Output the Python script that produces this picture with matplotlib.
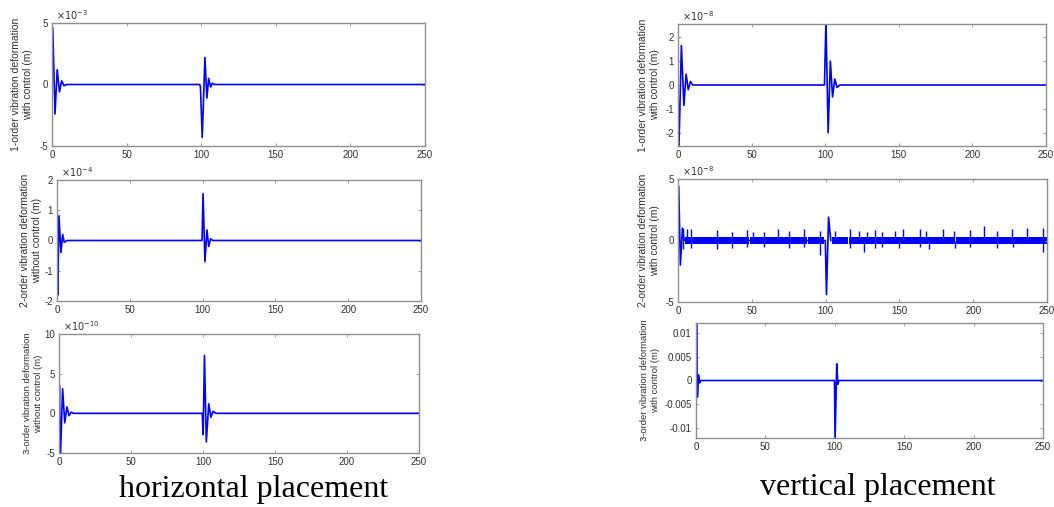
import matplotlib
matplotlib.use('Agg')
import matplotlib.pyplot as plt

plt.rcParams['font.family'] = ['Liberation Sans', 'DejaVu Sans']
plt.rcParams['axes.unicode_minus'] = False

W, H = 1054, 507

# horizontal placement, 1-order (x 1e-3)
t1 = [0, 0.5, 2, 3.5, 5, 6.5, 8, 10, 99, 99.5, 100.7, 102.5, 103.8, 105, 106.3, 107.5, 109, 250]
y1 = [0, 4.6, -2.4, 1.2, -0.6, 0.3, -0.1, 0, 0, -0.2, -4.3, 2.2, -1.1, 0.5, -0.2, 0.1, 0, 0]

# horizontal placement, 2-order (x 1e-4)
t2 = [0, 0.2, 0.6, 1.3, 2.7, 3.9, 5.0, 7.0, 99.6, 100.3, 101.6, 103.0, 104.2, 105.5, 107, 250]
y2 = [0, -0.3, -1.8, 0.82, -0.4, 0.2, -0.06, 0, 0, 1.55, -0.7, 0.35, -0.2, 0.06, 0, 0]

# horizontal placement, 3-order (x 1e-10)
t3 = [0, 0.3, 1.0, 2.5, 4, 5.5, 7, 8.5, 10, 99.5, 100.1, 101, 102.3, 104, 105.5, 107, 109, 250]
y3 = [0, 3.5, -5.5, 3.1, -1.2, 0.8, -0.3, 0.15, 0, 0, -2.7, 7.3, -3.6, 1.2, -0.5, 0.25, 0, 0]

# vertical placement, 1-order (x 1e-8)
t4 = [0, 0.6, 2.3, 4, 5.5, 7, 8.5, 10, 99.5, 100.5, 102, 103.5, 105, 106.5, 108, 110, 250]
y4 = [0, -2.7, 1.65, -0.85, 0.45, -0.2, 0.15, 0, 0, 2.7, -2.0, 1.0, -0.5, 0.25, -0.1, 0, 0]

# vertical placement, 2-order (x 1e-8): transients, residual band and spikes
t5 = [0, 0.5, 1.6, 3.0, 4.2, 99.8, 100.6, 102.0, 103.5]
y5 = [0, 4.4, -2.0, 1.0, 0, 0, -4.4, 1.9, 0]
band_start = [4.5, 37.5, 48.5, 88, 104.5, 116, 169, 188.5, 216.5]
band_end = [37, 48, 87.5, 99, 115.5, 168.5, 188, 216, 250]
band_amp = 0.3
up_t = [3.4, 6, 9, 26.4, 36.6, 46.7, 50.8, 58, 67.5, 75.4, 85.6, 96, 106.5, 116.7, 122.3,
        128, 133.6, 138, 147, 152.4, 163.7, 168, 179.5, 186.7, 197.5, 207.5, 216, 226, 236.3, 247.6]
up_h = [1.0, 0.9, 0.9, 0.85, 0.7, 0.85, 0.7, 0.7, 0.9, 0.8, 0.9, 0.75, 0.8, 0.9, 0.8,
        0.7, 0.85, 0.7, 0.75, 0.9, 0.9, 0.75, 0.9, 0.75, 0.85, 1.2, 0.8, 0.9, 1.0, 1.0]
dn_t = [3.4, 9, 26.4, 36.6, 46.7, 58, 75.4, 85.6, 96, 116.7, 126, 133.6, 138, 150, 163.7,
        170, 187.5, 197.5, 216, 227, 247.6]
dn_h = [-0.7, -0.6, -0.7, -0.6, -0.5, -0.5, -0.6, -0.5, -1.2, -0.6, -0.9, -0.6, -0.5, -0.6, -0.5,
        -0.7, -0.6, -0.5, -0.6, -0.5, -0.9]

# vertical placement, 3-order (m)
t6 = [0, 0.4, 1.0, 1.8, 2.6, 3.4, 99.8, 100.2, 101.4, 102.2, 103, 250]
y6 = [0, 0.0125, -0.0035, 0.0012, -0.0005, 0, 0, -0.0125, 0.0035, -0.0008, 0, 0]

xticks = [0, 50, 100, 150, 200, 250]
blue = '#0000ff'
grey = '#8f8f8f'
txt = '#333333'

fig = plt.figure(figsize=(W / 100, H / 100), dpi=100)


def make_ax(l, r, top, bot):
    ax = fig.add_axes([l / W, 1 - bot / H, (r - l) / W, (bot - top) / H])
    for s in ax.spines.values():
        s.set_color(grey)
        s.set_linewidth(1.0)
    ax.tick_params(direction='in', length=2.5, width=0.6, color=grey, labelsize=7,
                   labelcolor=txt, top=True, right=True, pad=3)
    ax.set_xlim(0, 250)
    ax.set_xticks(xticks)
    return ax


def label(ax, text, xr, size=7.5):
    ax.set_ylabel(text, fontsize=size, color=txt, linespacing=1.25)
    ax.yaxis.set_label_coords(xr, 0.5)


def expo(ax, s):
    ax.text(0.012, 1.005, r'$\times10^{%s}$' % s, transform=ax.transAxes, fontsize=7,
            color=txt, ha='left', va='bottom')


ax = make_ax(52, 425, 23, 146)
ax.plot(t1, y1, color=blue, lw=1.2)
ax.set_ylim(-5, 5)
ax.set_yticks([-5, 0, 5])
expo(ax, '-3')
label(ax, '1-order vibration deformation\nwith control (m)', -0.052)

ax = make_ax(57, 421, 180, 301)
ax.plot(t2, y2, color=blue, lw=1.2)
ax.set_ylim(-2, 2)
ax.set_yticks([-2, -1, 0, 1, 2])
expo(ax, '-4')
label(ax, '2-order vibration deformation\nwithout control (m)', -0.04)

ax = make_ax(59, 419, 334, 453)
ax.plot(t3, y3, color=blue, lw=1.2)
ax.set_ylim(-5, 10)
ax.set_yticks([-5, 0, 5, 10])
expo(ax, '-10')
label(ax, '3-order vibration deformation\nwithout control (m)', -0.045, 6.8)

ax = make_ax(678, 1046, 24, 146)
ax.plot(t4, y4, color=blue, lw=1.2)
ax.set_ylim(-2.55, 2.55)
ax.set_yticks([-2, -1, 0, 1, 2])
expo(ax, '-8')
label(ax, '1-order vibration deformation\nwith control (m)', -0.05)

ax = make_ax(678, 1047, 179, 302)
for a, b in zip(band_start, band_end):
    ax.fill_between([a, b], [-band_amp, -band_amp], [band_amp, band_amp], color=blue, lw=0)
ax.vlines(up_t, 0, up_h, color=blue, lw=1.0)
ax.vlines(dn_t, dn_h, 0, color=blue, lw=1.0)
ax.plot(t5, y5, color=blue, lw=1.2)
ax.set_ylim(-5, 5)
ax.set_yticks([-5, 0, 5])
expo(ax, '-8')
label(ax, '2-order vibration deformation\nwith control (m)', -0.05)

ax = make_ax(696, 1043, 323, 438)
ax.plot(t6, y6, color=blue, lw=1.2)
ax.set_ylim(-0.0121, 0.0121)
ax.set_yticks([-0.01, -0.005, 0, 0.005, 0.01])
ax.set_yticklabels(['-0.01', '-0.005', '0', '0.005', '0.01'])
label(ax, '3-order vibration deformation\nwith control (m)', -0.105, 6.8)

fig.text(254 / W, 1 - 490 / H, 'horizontal placement', family='Liberation Serif',
         fontsize=23, ha='center', va='center', color='black')
fig.text(878 / W, 1 - 488 / H, 'vertical placement', family='Liberation Serif',
         fontsize=23, ha='center', va='center', color='black')

fig.savefig('out.png', dpi=100, facecolor='white')
